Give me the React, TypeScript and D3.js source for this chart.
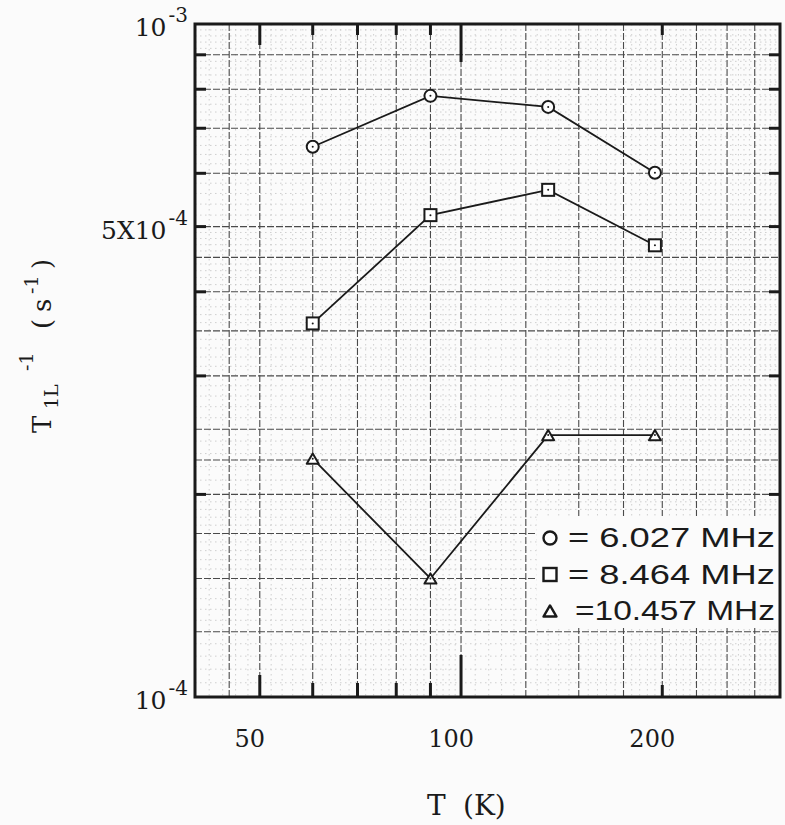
import React from "react";
import * as d3 from "d3";

// ---- data ----
const TEMPS = [60, 90, 135, 195];
const RATE_6027 = [6.57e-4, 7.82e-4, 7.53e-4, 6.01e-4];
const RATE_8464 = [3.59e-4, 5.2e-4, 5.67e-4, 4.69e-4];
const RATE_10457 = [2.26e-4, 1.5e-4, 2.45e-4, 2.45e-4];
const LEGEND_LABELS = ["= 6.027 MHz", "= 8.464 MHz", "=10.457 MHz"];
const MARKERS = ["circle", "square", "triangle"];
const X_TICKS = [50, 100, 200];
const X_TICK_LABELS = ["50", "100", "200"];
const Y_TICKS = [1e-3, 5e-4, 1e-4];
const Y_TICK_BASES = ["10", "5X10", "10"];
const Y_TICK_EXPS = ["-3", "-4", "-4"];

const W = 785;
const H = 825;
const L = 195, R = 780, T = 24, B = 697;

const x = d3.scaleLog().domain([40, 300]).range([L, R]);
const y = d3.scaleLog().domain([1e-4, 1e-3]).range([B, T]);

const SERIES = [RATE_6027, RATE_8464, RATE_10457];

const INK = "#1a1a1a";
const serif = "'DejaVu Serif', 'Liberation Serif', serif";
const sans = "'Liberation Sans', Arial, sans-serif";

function Marker({ kind, cx, cy, s = 6, sw = 2 }: { kind: string; cx: number; cy: number; s?: number; sw?: number }) {
  if (kind === "circle")
    return <circle cx={cx} cy={cy} r={s} fill="#fff" stroke={INK} strokeWidth={sw} />;
  if (kind === "square")
    return <rect x={cx - s} y={cy - s} width={2 * s} height={2 * s} fill="#fff" stroke={INK} strokeWidth={sw} />;
  const h = s * 1.7;
  return (
    <path
      d={`M${cx},${cy - h / 2}L${cx + s},${cy + h / 2}L${cx - s},${cy + h / 2}Z`}
      fill="#fff"
      stroke={INK}
      strokeWidth={sw}
      strokeLinejoin="round"
    />
  );
}

export default function App() {
  // graph-paper grid
  const vMajor = [45, 50, 60, 70, 80, 90, 100, 125, 150, 175, 200, 225, 250, 275];
  const vMinor = [...d3.range(42, 100, 2), ...d3.range(105, 300, 5)].filter((v) => !vMajor.includes(v));
  const hMajorM = [1.25, 1.5, 1.75, 2, 2.25, 2.5, 3, 3.5, 4, 4.5, 5, 6, 7, 8, 9];
  const hMinorM = [
    ...d3.range(1.05, 2, 0.05),
    ...d3.range(2.1, 5, 0.1),
    ...d3.range(5.2, 10, 0.2),
  ].filter((v) => !hMajorM.some((m) => Math.abs(m - v) < 1e-6));

  const line = d3
    .line<number>()
    .x((_, i) => x(TEMPS[i]))
    .y((d) => y(d));

  const topTickLen = (v: number) => (v === 100 ? 38 : v === 50 ? 21 : 11);
  const botTickLen = (v: number) => (v === 100 ? 42 : v === 50 ? 22 : v === 200 ? 12 : 14);
  const xTickVals = [50, 60, 70, 80, 90, 100, 200];
  const yTickVals = [2e-4, 3e-4, 4e-4, 5e-4, 6e-4, 7e-4, 8e-4, 9e-4];

  return (
    <div style={{ position: "absolute", left: 0, top: 0 }}>
      <svg width={W} height={H} viewBox={`0 0 ${W} ${H}`} style={{ display: "block" }}>
        <rect x={0} y={0} width={W} height={H} fill="#fbfbfb" />

        {/* minor grid */}
        <g stroke="#c4c4c4" strokeWidth={0.8} strokeDasharray="1.5,3.5">
          {vMinor.map((v) => (
            <line key={"vm" + v} x1={x(v)} x2={x(v)} y1={T} y2={B} />
          ))}
          {hMinorM.map((v) => (
            <line key={"hm" + v} x1={L} x2={R} y1={y(v * 1e-4)} y2={y(v * 1e-4)} />
          ))}
        </g>
        {/* major grid */}
        <g stroke="#4a4a4a" strokeWidth={1.1} strokeDasharray="7,2">
          {vMajor.map((v) => (
            <line key={"vM" + v} x1={x(v)} x2={x(v)} y1={T} y2={B} />
          ))}
          {hMajorM.map((v) => (
            <line key={"hM" + v} x1={L} x2={R} y1={y(v * 1e-4)} y2={y(v * 1e-4)} />
          ))}
        </g>

        {/* legend background */}
        <rect x={537} y={516} width={R - 537 - 1} height={112} fill="#fbfbfb" />

        {/* frame ticks */}
        <g stroke={INK} strokeWidth={3}>
          {xTickVals.map((v) => (
            <g key={"xt" + v}>
              <line x1={x(v)} x2={x(v)} y1={T} y2={T + topTickLen(v)} />
              <line x1={x(v)} x2={x(v)} y1={B} y2={B - botTickLen(v)} />
            </g>
          ))}
          {yTickVals.map((v) => (
            <g key={"yt" + v}>
              <line x1={L} x2={L + 11} y1={y(v)} y2={y(v)} />
              <line x1={R} x2={R - 11} y1={y(v)} y2={y(v)} />
            </g>
          ))}
        </g>
        <rect x={L} y={T} width={R - L} height={B - T} fill="none" stroke={INK} strokeWidth={3} />

        {/* series */}
        {SERIES.map((vals, si) => (
          <g key={"s" + si}>
            <path d={line(vals) || ""} fill="none" stroke={INK} strokeWidth={1.8} />
            {vals.map((v, i) => (
              <g key={i}>
                <Marker kind={MARKERS[si]} cx={x(TEMPS[i])} cy={y(v)} />
                <circle cx={x(TEMPS[i])} cy={y(v)} r={1} fill={INK} />
              </g>
            ))}
          </g>
        ))}

        {/* legend */}
        {LEGEND_LABELS.map((lab, i) => {
          const base = 547 + i * 36.5;
          const start = i === 2 ? 575 : 568;
          return (
            <g key={"lg" + i}>
              <Marker kind={MARKERS[i]} cx={550} cy={base - 9} s={6.5} sw={2.4} />
              <text
                x={start}
                y={base}
                fontFamily={sans}
                fontSize={27}
                fill={INK}
                textLength={775 - start}
                lengthAdjust="spacingAndGlyphs"
              >
                {lab}
              </text>
            </g>
          );
        })}

        {/* x tick labels */}
        {X_TICKS.map((v, i) => (
          <text key={"xl" + v} x={x(v) - 10} y={747} textAnchor="middle" fontFamily={serif} fontSize={24} fill={INK}>
            {X_TICK_LABELS[i]}
          </text>
        ))}

        {/* y tick labels */}
        {Y_TICKS.map((v, i) => (
          <text key={"yl" + i} x={188} y={y(v) + 12} textAnchor="end" fontFamily={serif} fontSize={25} fill={INK}>
            <tspan>{Y_TICK_BASES[i]}</tspan>
            <tspan dx={2} dy={-14} fontSize={20}>{Y_TICK_EXPS[i]}</tspan>
          </text>
        ))}

        {/* axis titles */}
        <text x={427} y={815} fontFamily={serif} fontSize={28} fill={INK}>
          <tspan>T</tspan>
          <tspan x={463}>(K)</tspan>
        </text>
        <g transform="translate(51,433) rotate(-90)">
          <text fontFamily={serif} fontSize={26} fill={INK}>
            <tspan x={0}>T</tspan>
            <tspan x={24} dy={7} fontSize={19}>1L</tspan>
            <tspan x={62} dy={-25} fontSize={19}>-1</tspan>
            <tspan x={104} dy={18}>(</tspan>
            <tspan x={121}>s</tspan>
            <tspan x={139} dy={-13} fontSize={19}>-1</tspan>
            <tspan x={164} dy={13}>)</tspan>
          </text>
        </g>
      </svg>
    </div>
  );
}
